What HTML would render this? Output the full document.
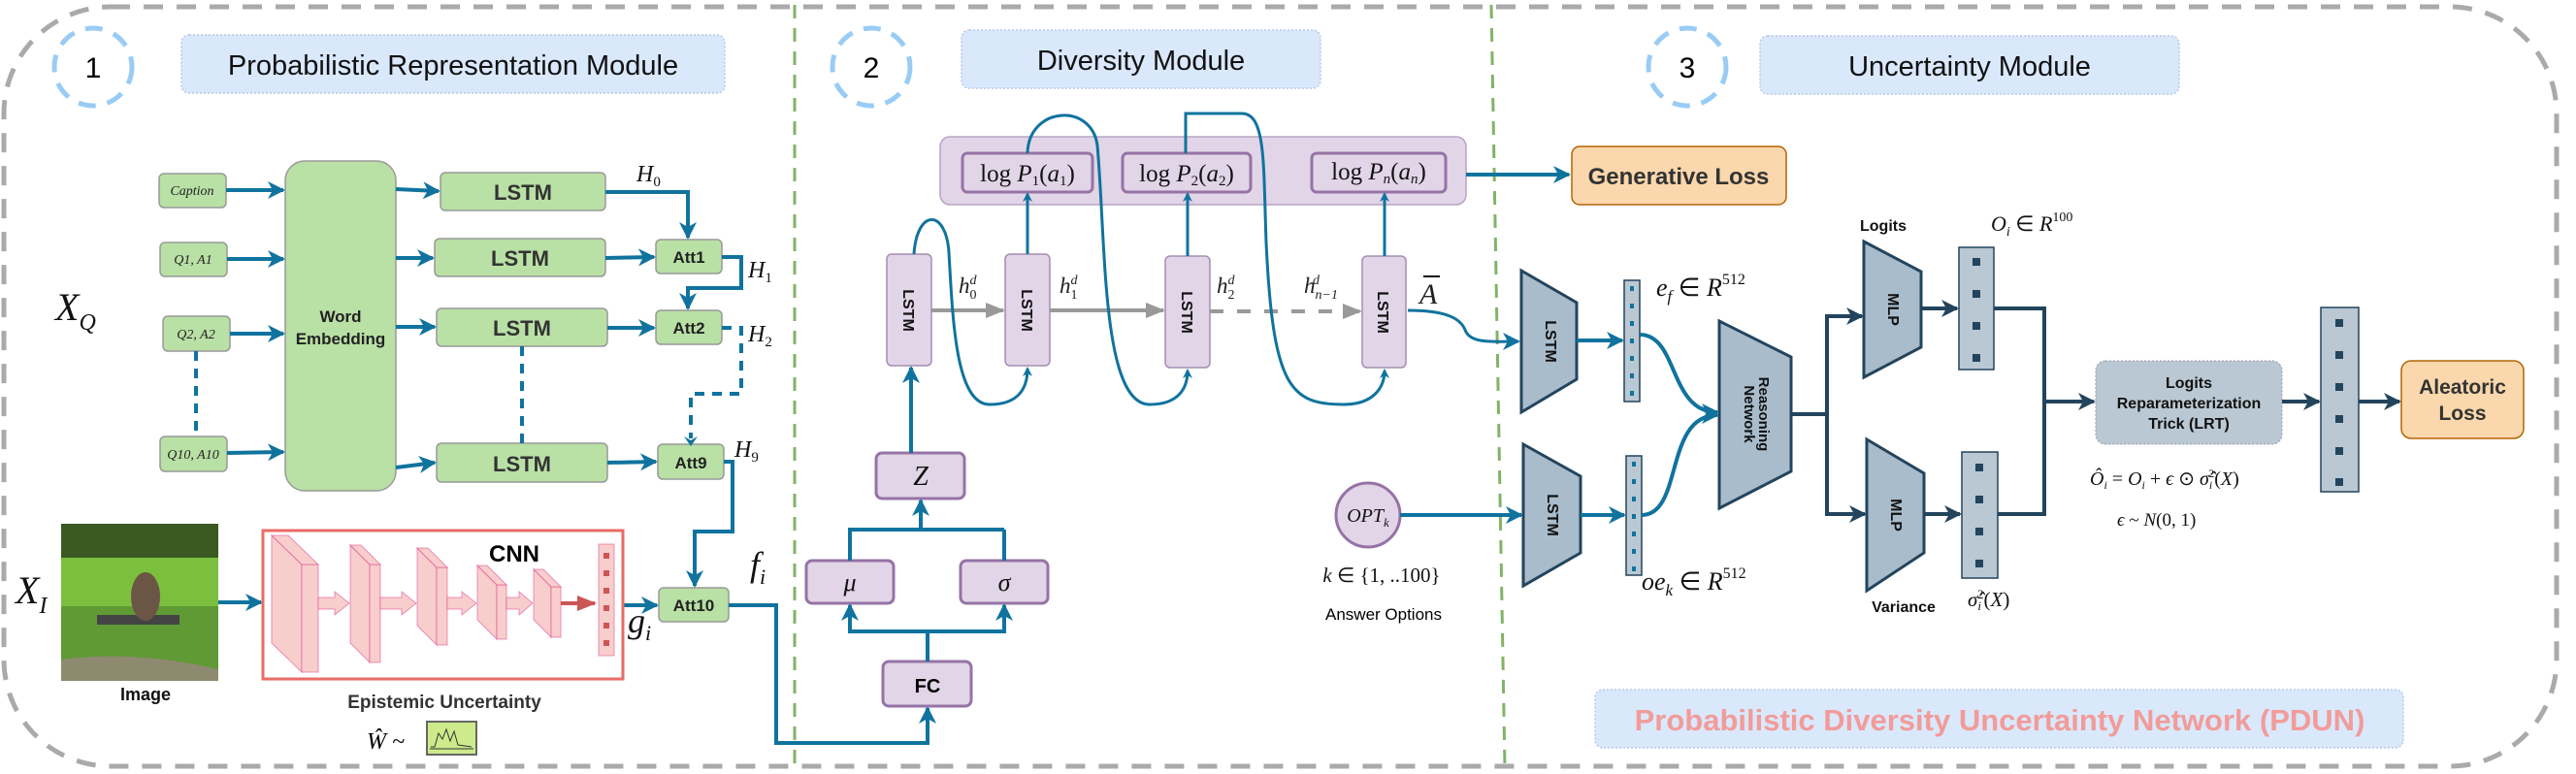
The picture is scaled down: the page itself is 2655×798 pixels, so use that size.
<!DOCTYPE html>
<html><head><meta charset="utf-8"><style>
html,body{margin:0;padding:0;background:#fff;}
svg{display:block;}
.s{font-family:"Liberation Sans",sans-serif;}
.m{font-family:"Liberation Serif",serif;font-style:italic;}
</style></head><body>
<svg width="2655" height="798" viewBox="0 0 2655 798" xmlns="http://www.w3.org/2000/svg">
<defs>
<marker id="ab" markerWidth="10" markerHeight="10" refX="8" refY="5" orient="auto" markerUnits="userSpaceOnUse"><path d="M0,0 L10,5 L0,10 L3,5 Z" fill="#10739e"/></marker>
<marker id="ab2" markerWidth="18" markerHeight="18" refX="16" refY="9" orient="auto" markerUnits="userSpaceOnUse"><path d="M0,0 L18,9 L0,18 L5,9 Z" fill="#10739e"/></marker>
<marker id="ad" markerWidth="18" markerHeight="18" refX="16" refY="9" orient="auto" markerUnits="userSpaceOnUse"><path d="M0,0 L18,9 L0,18 L5,9 Z" fill="#23445d"/></marker>
<marker id="ag" markerWidth="20" markerHeight="20" refX="18" refY="10" orient="auto" markerUnits="userSpaceOnUse"><path d="M0,2 L20,10 L0,18 Z" fill="#999"/></marker>
<marker id="ar" markerWidth="20" markerHeight="20" refX="18" refY="10" orient="auto" markerUnits="userSpaceOnUse"><path d="M0,2 L20,10 L0,18 Z" fill="#c55"/></marker>
</defs>

<rect x="4" y="7" width="2631" height="783" rx="110" fill="none" stroke="#aaa" stroke-width="5" stroke-dasharray="20,14"/>
<line x1="819" y1="5" x2="819" y2="792" stroke="#82b366" stroke-width="3" stroke-dasharray="14,10"/>
<line x1="1537" y1="5" x2="1551" y2="792" stroke="#82b366" stroke-width="3" stroke-dasharray="14,10"/>

<g fill="none" stroke="#99ccf5" stroke-width="5" stroke-dasharray="18,12">
<circle cx="96" cy="69" r="40"/><circle cx="898" cy="69" r="40"/><circle cx="1739" cy="69" r="40"/>
</g>
<g class="s" font-size="30" text-anchor="middle">
<text x="96" y="80">1</text><text x="898" y="80">2</text><text x="1739" y="80">3</text>
</g>
<g fill="#dae8fc" stroke="#b8c8e8" stroke-width="1.5" stroke-dasharray="2,2">
<rect x="187" y="36" width="560" height="60" rx="8"/>
<rect x="991" y="31" width="370" height="60" rx="8"/>
<rect x="1814" y="37" width="432" height="60" rx="8"/>
<rect x="1644" y="711" width="833" height="60" rx="8"/>
</g>
<g class="s" font-size="29" text-anchor="middle" fill="#111">
<text x="467" y="77">Probabilistic Representation Module</text>
<text x="1176" y="72">Diversity  Module</text>
<text x="2030" y="78">Uncertainty  Module</text>
</g>
<text x="2061" y="753" class="s" font-size="31" font-weight="bold" fill="#f19c99" text-anchor="middle">Probabilistic Diversity Uncertainty Network (PDUN)</text>

<g fill="#b9e0a5" stroke="#999" stroke-width="1.5">
<rect x="164" y="179" width="69" height="35" rx="5"/>
<rect x="165" y="250" width="69" height="35" rx="5"/>
<rect x="168" y="326" width="69" height="36" rx="5"/>
<rect x="165" y="450" width="69" height="36" rx="5"/>
<rect x="294" y="166" width="114" height="340" rx="20"/>
<rect x="454" y="178" width="170" height="39" rx="5"/>
<rect x="448" y="246" width="176" height="39" rx="5"/>
<rect x="450" y="318" width="176" height="39" rx="5"/>
<rect x="450" y="457" width="176" height="40" rx="5"/>
<rect x="676" y="247" width="68" height="35" rx="5"/>
<rect x="676" y="320" width="68" height="35" rx="5"/>
<rect x="678" y="458" width="68" height="36" rx="5"/>
<rect x="679" y="606" width="72" height="35" rx="5"/>
</g>
<g class="m" font-size="14" text-anchor="middle" fill="#222">
<text x="198" y="201">Caption</text><text x="199" y="272">Q1, A1</text><text x="202" y="349">Q2, A2</text><text x="199" y="473">Q10, A10</text>
</g>
<g class="s" font-weight="bold" text-anchor="middle" fill="#222">
<text x="351" y="332" font-size="17">Word</text><text x="351" y="355" font-size="17">Embedding</text>
<text x="539" y="206" font-size="22" fill="#333">LSTM</text>
<text x="536" y="274" font-size="22" fill="#333">LSTM</text>
<text x="538" y="346" font-size="22" fill="#333">LSTM</text>
<text x="538" y="486" font-size="22" fill="#333">LSTM</text>
<text x="710" y="271" font-size="17">Att1</text>
<text x="710" y="344" font-size="17">Att2</text>
<text x="712" y="483" font-size="17">Att9</text>
<text x="715" y="630" font-size="17">Att10</text>
</g>
<g stroke="#10739e" stroke-width="4" fill="none" marker-end="url(#ab2)">
<line x1="233" y1="196" x2="292" y2="196"/>
<line x1="234" y1="267" x2="292" y2="267"/>
<line x1="237" y1="344" x2="292" y2="344"/>
<line x1="234" y1="467" x2="292" y2="466"/>
<line x1="408" y1="195" x2="452" y2="197"/>
<line x1="408" y1="266" x2="446" y2="266"/>
<line x1="408" y1="337" x2="448" y2="337"/>
<line x1="408" y1="482" x2="448" y2="477"/>
<line x1="624" y1="266" x2="674" y2="265"/>
<line x1="626" y1="338" x2="674" y2="338"/>
<line x1="626" y1="477" x2="676" y2="476"/>
<polyline points="624,198 709,198 709,245"/>
<polyline points="744,265 764,265 764,297 709,297 709,318"/>
<polyline points="746,476 755,476 755,548 716,548 716,604"/>
<line x1="225" y1="621" x2="269" y2="621"/>
<line x1="642" y1="624" x2="677" y2="624"/>
<polyline points="751,624 800,624 800,766 956,766 956,730"/>
</g>
<g stroke="#10739e" stroke-width="4" fill="none" stroke-dasharray="10,8">
<line x1="202" y1="362" x2="202" y2="450"/>
<line x1="538" y1="357" x2="538" y2="457"/>
</g>
<polyline points="744,338 764,338 764,406 712,406 712,452" stroke="#10739e" stroke-width="4" fill="none" stroke-dasharray="10,8"/>
<path d="M705,450 L712,460 L719,450 L712,454 Z" fill="#10739e"/>
<g class="m" font-size="24" fill="#111">
<text x="656" y="187">H<tspan font-size="15" dy="5" font-style="normal">0</tspan></text>
<text x="771" y="286">H<tspan font-size="15" dy="5" font-style="normal">1</tspan></text>
<text x="771" y="352">H<tspan font-size="15" dy="5" font-style="normal">2</tspan></text>
<text x="757" y="471">H<tspan font-size="15" dy="5" font-style="normal">9</tspan></text>
<text x="57" y="330" font-size="40">X<tspan font-size="24" dy="10">Q</tspan></text>
<text x="16" y="622" font-size="40">X<tspan font-size="24" dy="10">I</tspan></text>
<text x="773" y="594" font-size="36">f<tspan font-size="22" dy="8">i</tspan></text>
<text x="647" y="652" font-size="36">g<tspan font-size="22" dy="8">i</tspan></text>
</g>

<rect x="63" y="540" width="162" height="162" fill="#5f9a35"/>
<rect x="63" y="540" width="162" height="40" fill="#3a5a22"/>
<rect x="63" y="575" width="162" height="50" fill="#7cbf3f"/>
<path d="M63,680 Q140,670 225,690 L225,702 L63,702 Z" fill="#8e8a70"/>
<rect x="100" y="634" width="85" height="10" fill="#444"/>
<ellipse cx="150" cy="615" rx="15" ry="25" fill="#6b5545"/>
<text x="150" y="722" class="s" font-size="18" font-weight="bold" text-anchor="middle" fill="#111">Image</text>

<rect x="271" y="547" width="371" height="153" fill="#fff" stroke="#ea6b66" stroke-width="3"/>
<g fill="#f8cecc" stroke="#d38" stroke-opacity="0.5" stroke-width="1">
<polygon points="280,552 311,582 311,693 280,663"/><rect x="311" y="582" width="17" height="111"/><polygon points="280,552 297,552 328,582 311,582"/>
<polygon points="361,562 381,582 381,683 361,663"/><rect x="381" y="582" width="11" height="101"/><polygon points="361,562 372,562 392,582 381,582"/>
<polygon points="430,565 450,585 450,665 430,645"/><rect x="450" y="585" width="11" height="80"/><polygon points="430,565 441,565 461,585 450,585"/>
<polygon points="492,583 512,603 512,659 492,639"/><rect x="512" y="603" width="10" height="56"/><polygon points="492,583 502,583 522,603 512,603"/>
<polygon points="550,587 568,605 568,657 550,639"/><rect x="568" y="605" width="10" height="52"/><polygon points="550,587 560,587 578,605 568,605"/>
<polygon points="328,616 345,616 345,610 360,622 345,634 345,628 328,628"/>
<polygon points="392,616 414,616 414,610 429,622 414,634 414,628 392,628"/>
<polygon points="461,616 476,616 476,610 491,622 476,634 476,628 461,628"/>
<polygon points="522,616 535,616 535,610 549,622 535,634 535,628 522,628"/>
<rect x="617" y="561" width="16" height="115"/>
</g>
<line x1="578" y1="622" x2="613" y2="622" stroke="#c55" stroke-width="4" marker-end="url(#ar)"/>
<g fill="#c55"><rect x="622" y="570" width="6" height="6"/><rect x="622" y="588" width="6" height="6"/><rect x="622" y="606" width="6" height="6"/><rect x="622" y="624" width="6" height="6"/><rect x="622" y="642" width="6" height="6"/><rect x="622" y="660" width="6" height="6"/></g>
<text x="530" y="579" class="s" font-size="24" font-weight="bold" text-anchor="middle">CNN</text>
<text x="458" y="730" class="s" font-size="19" font-weight="bold" text-anchor="middle" fill="#333">Epistemic Uncertainty</text>
<text x="378" y="772" class="m" font-size="24">Ŵ ~</text>
<rect x="440" y="744" width="51" height="34" fill="#cdeb8b" stroke="#666" stroke-width="2"/>
<path d="M444,770 L448,770 L452,756 L456,762 L460,752 L464,764 L468,754 L472,768 L486,770" fill="none" stroke="#333" stroke-width="1"/>
<line x1="443" y1="772" x2="488" y2="772" stroke="#333" stroke-width="1"/>

<g fill="#e1d5e7" stroke="#9673a6" stroke-width="3">
<rect x="969" y="141" width="542" height="70" rx="10" stroke-width="1.5" stroke="#b9a4c4"/>
<rect x="992" y="158" width="134" height="40" rx="5"/>
<rect x="1157" y="158" width="132" height="40" rx="5"/>
<rect x="1352" y="158" width="138" height="40" rx="5"/>
<rect x="914" y="262" width="46" height="115" rx="5" stroke-width="1.5" stroke="#a58db3"/>
<rect x="1036" y="262" width="46" height="115" rx="5" stroke-width="1.5" stroke="#a58db3"/>
<rect x="1201" y="264" width="46" height="115" rx="5" stroke-width="1.5" stroke="#a58db3"/>
<rect x="1404" y="264" width="45" height="115" rx="5" stroke-width="1.5" stroke="#a58db3"/>
<rect x="903" y="467" width="91" height="47" rx="6"/>
<rect x="831" y="578" width="90" height="44" rx="6"/>
<rect x="990" y="578" width="90" height="44" rx="6"/>
<rect x="910" y="682" width="91" height="46" rx="6"/>
<circle cx="1410" cy="531" r="33"/>
</g>
<g class="m" font-size="25" fill="#111" text-anchor="middle">
<text x="1059" y="187"><tspan font-style="normal">log </tspan>P<tspan font-size="15" dy="4" font-style="normal">1</tspan><tspan dy="-4" font-style="normal">(</tspan>a<tspan font-size="15" dy="4" font-style="normal">1</tspan><tspan dy="-4" font-style="normal">)</tspan></text>
<text x="1223" y="187"><tspan font-style="normal">log </tspan>P<tspan font-size="15" dy="4" font-style="normal">2</tspan><tspan dy="-4" font-style="normal">(</tspan>a<tspan font-size="15" dy="4" font-style="normal">2</tspan><tspan dy="-4" font-style="normal">)</tspan></text>
<text x="1421" y="185"><tspan font-style="normal">log </tspan>P<tspan font-size="15" dy="4">n</tspan><tspan dy="-4" font-style="normal">(</tspan>a<tspan font-size="15" dy="4">n</tspan><tspan dy="-4" font-style="normal">)</tspan></text>
<text x="949" y="500" font-size="28">Z</text>
<text x="876" y="609" font-size="26">μ</text>
<text x="1035" y="609" font-size="26">σ</text>
<text x="1410" y="538" font-size="20">OPT<tspan font-size="13" dy="5">k</tspan></text>
<text x="1424" y="600" font-size="21">k <tspan font-style="normal">∈ {1, ..100}</tspan></text>
</g>
<text x="956" y="714" class="s" font-size="20" font-weight="bold" text-anchor="middle">FC</text>
<text x="1426" y="639" class="s" font-size="17" text-anchor="middle">Answer Options</text>
<g class="s" font-size="16" font-weight="bold" fill="#111" text-anchor="middle">
<text transform="translate(931,320) rotate(90)">LSTM</text>
<text transform="translate(1053,320) rotate(90)">LSTM</text>
<text transform="translate(1218,322) rotate(90)">LSTM</text>
<text transform="translate(1420,322) rotate(90)">LSTM</text>
</g>
<g class="m" font-size="23" fill="#222">
<text x="988" y="302">h<tspan font-size="14" dy="6" font-style="normal">0</tspan><tspan font-size="14" dx="-7" dy="-15">d</tspan></text>
<text x="1092" y="302">h<tspan font-size="14" dy="6" font-style="normal">1</tspan><tspan font-size="14" dx="-7" dy="-15">d</tspan></text>
<text x="1254" y="302">h<tspan font-size="14" dy="6" font-style="normal">2</tspan><tspan font-size="14" dx="-7" dy="-15">d</tspan></text>
<text x="1344" y="302">h<tspan font-size="14" dy="6">n−1</tspan><tspan font-size="14" dx="-26" dy="-15">d</tspan></text>
<text x="1463" y="313" font-size="30">A</text>
</g>
<line x1="1467" y1="285" x2="1484" y2="285" stroke="#111" stroke-width="2"/>
<g stroke="#999" stroke-width="4">
<line x1="960" y1="320" x2="1034" y2="320" marker-end="url(#ag)"/>
<line x1="1082" y1="320" x2="1199" y2="320" marker-end="url(#ag)"/>
<line x1="1247" y1="321" x2="1402" y2="321" stroke-dasharray="14,14" marker-end="url(#ag)"/>
</g>
<g stroke="#10739e" stroke-width="3" fill="none" marker-end="url(#ab)">
<line x1="1059" y1="262" x2="1059" y2="200"/>
<line x1="1224" y1="264" x2="1224" y2="200"/>
<line x1="1427" y1="264" x2="1427" y2="200"/>
<path d="M942,262 C945,215 975,215 978,260 C982,330 985,417 1020,417 C1050,417 1059,400 1059,380"/>
<path d="M1059,158 C1060,110 1125,105 1131,150 C1140,250 1135,417 1185,417 C1215,417 1224,400 1224,382"/>
<path d="M1222,158 L1222,117 L1280,117 C1305,117 1302,170 1305,250 C1312,400 1330,417 1385,417 C1415,417 1427,400 1427,382"/>
<path d="M1451,320 C1490,320 1505,328 1510,340 C1515,355 1540,352 1565,352" marker-end="url(#ab2)"/>
</g>
<g stroke="#10739e" stroke-width="4" fill="none" marker-end="url(#ab2)">
<line x1="1511" y1="180" x2="1617" y2="180"/>
<line x1="939" y1="467" x2="939" y2="379"/>
<line x1="1443" y1="531" x2="1568" y2="531"/>
<polyline points="956,682 956,651 876,651 876,624"/>
<polyline points="956,651 1035,651 1035,624"/>
<polyline points="876,578 876,546 949,546 949,516"/>
</g>
<line x1="949" y1="546" x2="1035" y2="546" stroke="#10739e" stroke-width="4"/>
<line x1="1035" y1="546" x2="1035" y2="578" stroke="#10739e" stroke-width="4"/>

<rect x="1620" y="151" width="221" height="60" rx="8" fill="#fad7ac" stroke="#b46504" stroke-width="1.5"/>
<text x="1730" y="190" class="s" font-size="24" font-weight="bold" fill="#333" text-anchor="middle">Generative Loss</text>
<rect x="2475" y="372" width="126" height="80" rx="10" fill="#fad7ac" stroke="#b46504" stroke-width="1.5"/>
<text x="2538" y="406" class="s" font-size="21" font-weight="bold" fill="#333" text-anchor="middle">Aleatoric</text>
<text x="2538" y="433" class="s" font-size="21" font-weight="bold" fill="#333" text-anchor="middle">Loss</text>
<rect x="2160" y="372" width="192" height="86" rx="10" fill="#bac8d3" stroke="#99a" stroke-width="1" stroke-dasharray="2,2"/>
<g class="s" font-size="16" font-weight="bold" text-anchor="middle" fill="#111">
<text x="2256" y="400">Logits</text><text x="2256" y="421">Reparameterization</text><text x="2256" y="442">Trick (LRT)</text>
</g>
<g fill="#a9bccb" stroke="#23445d" stroke-width="3">
<polygon points="1568,279 1625,312 1625,391 1568,425"/>
<polygon points="1570,458 1629,491 1629,570 1570,604"/>
<polygon points="1772,331 1846,368 1846,486 1772,524"/>
<polygon points="1921,249 1980,280 1980,358 1921,389"/>
<polygon points="1924,453 1983,488 1983,570 1924,609"/>
</g>
<g fill="#bac8d3" stroke="#23445d" stroke-width="1.5">
<rect x="1674" y="289" width="16" height="125"/><rect x="1676" y="470" width="16" height="123"/>
<rect x="2019" y="255" width="36" height="126"/><rect x="2022" y="466" width="37" height="130"/>
<rect x="2392" y="317" width="39" height="190"/>
</g>
<g fill="#10739e">
<rect x="1680" y="295" width="4" height="5"/><rect x="1680" y="313" width="4" height="5"/><rect x="1680" y="331" width="4" height="5"/><rect x="1680" y="349" width="4" height="5"/><rect x="1680" y="367" width="4" height="5"/><rect x="1680" y="385" width="4" height="5"/><rect x="1680" y="403" width="4" height="5"/>
<rect x="1682" y="476" width="4" height="5"/><rect x="1682" y="494" width="4" height="5"/><rect x="1682" y="512" width="4" height="5"/><rect x="1682" y="530" width="4" height="5"/><rect x="1682" y="548" width="4" height="5"/><rect x="1682" y="566" width="4" height="5"/><rect x="1682" y="584" width="4" height="5"/>
</g>
<g fill="#23445d">
<rect x="2033" y="266" width="8" height="8"/><rect x="2033" y="299" width="8" height="8"/><rect x="2033" y="332" width="8" height="8"/><rect x="2033" y="365" width="8" height="8"/>
<rect x="2036" y="478" width="8" height="8"/><rect x="2036" y="511" width="8" height="8"/><rect x="2036" y="544" width="8" height="8"/><rect x="2036" y="577" width="8" height="8"/>
<rect x="2407" y="329" width="8" height="8"/><rect x="2407" y="362" width="8" height="8"/><rect x="2407" y="395" width="8" height="8"/><rect x="2407" y="428" width="8" height="8"/><rect x="2407" y="461" width="8" height="8"/><rect x="2407" y="493" width="8" height="8"/>
</g>
<g class="s" font-size="16" font-weight="bold" fill="#111" text-anchor="middle">
<text transform="translate(1593,352) rotate(90)">LSTM</text>
<text transform="translate(1595,531) rotate(90)">LSTM</text>
<text transform="translate(1946,319) rotate(90)">MLP</text>
<text transform="translate(1949,531) rotate(90)">MLP</text>
<text transform="translate(1813,427) rotate(90)" font-size="15">Reasoning</text>
<text transform="translate(1798,427) rotate(90)" font-size="15">Network</text>
</g>
<g class="s" font-size="16" font-weight="bold" fill="#111" text-anchor="middle">
<text x="1941" y="238">Logits</text><text x="1962" y="631">Variance</text>
</g>
<g stroke="#10739e" stroke-width="4" fill="none" marker-end="url(#ab2)">
<line x1="1625" y1="351" x2="1672" y2="351"/>
<line x1="1629" y1="531" x2="1674" y2="531"/>
<path d="M1690,345 C1730,345 1720,425 1770,425"/>
<path d="M1692,531 C1735,531 1715,428 1770,428"/>
</g>
<g stroke="#23445d" stroke-width="4" fill="none" marker-end="url(#ad)">
<polyline points="1846,427 1883,427 1883,326 1919,326"/>
<polyline points="1883,427 1883,530 1922,530"/>
<line x1="1980" y1="318" x2="2017" y2="318"/>
<line x1="1983" y1="530" x2="2020" y2="530"/>
<polyline points="2055,318 2107,318 2107,414 2158,414"/>
<line x1="2352" y1="414" x2="2390" y2="414"/>
<line x1="2431" y1="414" x2="2473" y2="414"/>
</g>
<polyline points="2059,530 2107,530 2107,414" stroke="#23445d" stroke-width="4" fill="none"/>
<g class="m" font-size="26" fill="#111">
<text x="1707" y="305">e<tspan font-size="17" dy="6">f</tspan><tspan dy="-6" font-style="normal"> ∈ </tspan>R<tspan font-size="16" dy="-12" font-style="normal">512</tspan></text>
<text x="1692" y="608">oe<tspan font-size="17" dy="6">k</tspan><tspan dy="-6" font-style="normal"> ∈ </tspan>R<tspan font-size="16" dy="-12" font-style="normal">512</tspan></text>
<text x="2052" y="238" font-size="22">O<tspan font-size="14" dy="5">i</tspan><tspan dy="-5" font-style="normal"> ∈ </tspan>R<tspan font-size="14" dy="-10" font-style="normal">100</tspan></text>
<text x="2028" y="625" font-size="21">σ̂<tspan font-size="13" dy="4">i</tspan><tspan font-size="13" dx="-4" dy="-12" font-style="normal">2</tspan><tspan dy="8" font-style="normal">(</tspan>X<tspan font-style="normal">)</tspan></text>
<text x="2154" y="500" font-size="20">Ô<tspan font-size="12" dy="4">i</tspan><tspan dy="-4" font-style="normal"> = </tspan>O<tspan font-size="12" dy="4">i</tspan><tspan dy="-4" font-style="normal"> + </tspan>ϵ<tspan font-style="normal"> ⊙ </tspan>σ̂<tspan font-size="12" dy="4">i</tspan><tspan font-size="12" dx="-4" dy="-12" font-style="normal">2</tspan><tspan dy="8" font-style="normal">(</tspan>X<tspan font-style="normal">)</tspan></text>
<text x="2182" y="542" font-size="19">ϵ<tspan font-style="normal"> ~ </tspan>N<tspan font-style="normal">(0, 1)</tspan></text>
</g>
</svg>
</body></html>
